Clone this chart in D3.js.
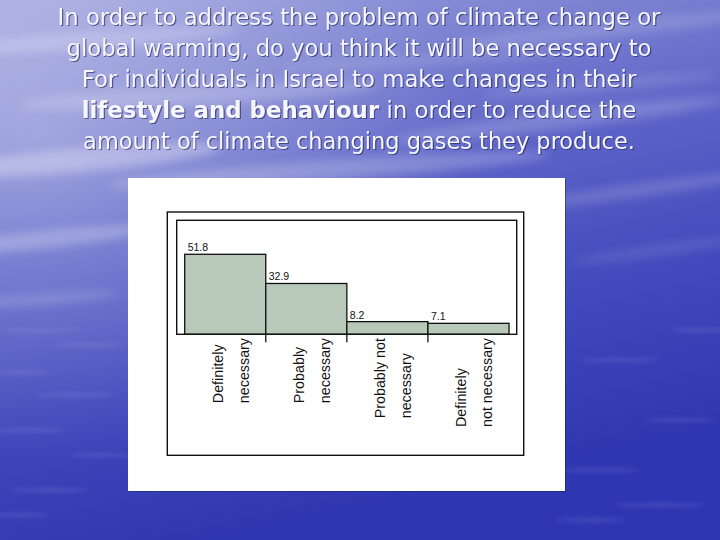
<!DOCTYPE html>
<html><head><meta charset="utf-8">
<script src="https://cdn.jsdelivr.net/npm/d3@7"></script>
<style>html,body{margin:0;padding:0;background:#4a52c0;overflow:hidden} svg{display:block}</style>
</head><body><svg id="c" width="720" height="540"></svg>
<script>
// ---- data ----
const titleLines = [
  [["In order to address the problem of climate change or", false]],
  [["global warming, do you think it will be necessary to", false]],
  [["For individuals in Israel to make changes in their", false]],
  [["lifestyle and behaviour", true], [" in order to reduce the", false]],
  [["amount of climate changing gases they produce.", false]]
];
const categories = ["Definitely necessary", "Probably necessary", "Probably not necessary", "Definitely not necessary"];
const categoryLines = [["Definitely", "necessary"], ["Probably", "necessary"], ["Probably not", "necessary"], ["Definitely", "not necessary"]];
const values = [51.8, 32.9, 8.2, 7.1];
const valueLabels = ["51.8", "32.9", "8.2", "7.1"];
const yMax = 73.8;

// ---- layout ----
const svg = d3.select("#c");
const defs = svg.append("defs");

const bg = defs.append("linearGradient").attr("id", "bg").attr("x1", 0).attr("y1", 0).attr("x2", 0.3).attr("y2", 1);
[[0, "#9ea3de"], [0.22, "#7e84d2"], [0.45, "#5c63c7"], [0.7, "#434bbd"], [1, "#2f36b1"]]
  .forEach(([o, c]) => bg.append("stop").attr("offset", o).attr("stop-color", c));
const rg = defs.append("radialGradient").attr("id", "glow").attr("cx", 0.05).attr("cy", 0.25).attr("r", 0.6);
rg.append("stop").attr("offset", 0).attr("stop-color", "#fff").attr("stop-opacity", 0.3);
rg.append("stop").attr("offset", 1).attr("stop-color", "#fff").attr("stop-opacity", 0);
defs.append("filter").attr("id", "blur").attr("x", "-50%").attr("y", "-50%").attr("width", "200%").attr("height", "200%")
  .append("feGaussianBlur").attr("stdDeviation", 5);
defs.append("filter").attr("id", "blur2").attr("x", "-50%").attr("y", "-50%").attr("width", "200%").attr("height", "200%")
  .append("feGaussianBlur").attr("stdDeviation", 2);

svg.append("rect").attr("width", 720).attr("height", 540).attr("fill", "url(#bg)");
svg.append("rect").attr("width", 720).attr("height", 540).attr("fill", "url(#glow)");

const streaks = [
  [90, 40, 150, 9, -4, 0.22], [600, 30, 160, 8, -6, 0.15], [200, 95, 180, 10, -3, 0.2],
  [560, 120, 170, 9, -7, 0.18], [80, 160, 140, 12, -5, 0.3], [330, 170, 220, 10, -4, 0.22],
  [640, 190, 130, 7, -8, 0.16], [40, 240, 110, 9, -6, 0.25], [660, 250, 90, 6, -8, 0.1],
  [30, 300, 90, 6, -4, 0.16], [600, 85, 120, 6, -5, 0.13], [420, 60, 140, 6, -3, 0.12]
];
svg.append("g").attr("filter", "url(#blur)").selectAll("ellipse").data(streaks).join("ellipse")
  .attr("cx", d => d[0]).attr("cy", d => d[1]).attr("rx", d => d[2]).attr("ry", d => d[3])
  .attr("transform", d => `rotate(${d[4]},${d[0]},${d[1]})`)
  .attr("fill", "#fff").attr("opacity", d => d[5]);

const ripples = [
  [40, 330, 40, 2], [90, 345, 35, 2], [20, 372, 30, 2], [75, 395, 40, 2], [30, 430, 35, 2],
  [100, 455, 30, 2], [50, 490, 40, 2], [20, 515, 30, 2], [620, 360, 40, 2], [680, 420, 35, 2],
  [600, 470, 40, 2], [660, 505, 45, 2], [700, 330, 30, 2], [590, 520, 35, 2]
];
svg.append("g").attr("filter", "url(#blur2)").selectAll("ellipse").data(ripples).join("ellipse")
  .attr("cx", d => d[0]).attr("cy", d => d[1]).attr("rx", d => d[2]).attr("ry", d => d[3])
  .attr("fill", "#c8ccf4").attr("opacity", 0.15);

// ---- title ----
const titleBase = [25, 56, 87, 118, 149];
const titleWidth = [603, 585, 555, 555, 552];
const titleG = svg.append("g");
titleLines.forEach((parts, i) => {
  [[1.2, 1.2, "#20225a", 0.6], [0, 0, "#f6f6ff", 1]].forEach(([dx, dy, col, op]) => {
    const t = titleG.append("text")
      .attr("text-anchor", "middle")
      .attr("font-family", "DejaVu Sans Condensed, DejaVu Sans, Verdana, sans-serif")
      .attr("font-size", 23).attr("fill", col).attr("opacity", op);
    parts.forEach(([s, b]) => t.append("tspan").text(s).attr("font-weight", b ? "bold" : "normal"));
    const w = t.node().getComputedTextLength();
    t.attr("transform", `translate(${359 + dx},${titleBase[i] + dy}) scale(${titleWidth[i] / w},1)`);
  });
});

// ---- panel ----
svg.append("rect").attr("x", 129).attr("y", 179).attr("width", 437).attr("height", 313).attr("fill", "#20245a").attr("opacity", 0.5);
svg.append("rect").attr("x", 128).attr("y", 178).attr("width", 437).attr("height", 313).attr("fill", "#ffffff");
svg.append("rect").attr("x", 167.3).attr("y", 212).attr("width", 356.4).attr("height", 243.3)
  .attr("fill", "none").attr("stroke", "#111").attr("stroke-width", 1.4);

const plot = { l: 176.7, r: 516.7, t: 220.3, b: 334.3 };
const x = d3.scaleBand().domain(categories).range([184.7, 509]).padding(0);
const y = d3.scaleLinear().domain([0, yMax]).range([plot.b, plot.t]);

svg.append("g").selectAll("rect").data(values).join("rect")
  .attr("x", (d, i) => x(categories[i])).attr("width", x.bandwidth())
  .attr("y", d => y(d)).attr("height", d => y(0) - y(d))
  .attr("fill", "#b9c9b9").attr("stroke", "#111").attr("stroke-width", 1.3);

svg.append("rect").attr("x", plot.l).attr("y", plot.t).attr("width", plot.r - plot.l).attr("height", plot.b - plot.t)
  .attr("fill", "none").attr("stroke", "#111").attr("stroke-width", 1.4);

// ticks at boundaries between bars
svg.append("g").selectAll("line").data(categories.slice(1)).join("line")
  .attr("x1", d => x(d)).attr("x2", d => x(d)).attr("y1", plot.b).attr("y2", plot.b + 8)
  .attr("stroke", "#111").attr("stroke-width", 1.3);

// value labels
svg.append("g").selectAll("text").data(values).join("text")
  .attr("x", (d, i) => x(categories[i]) + 3).attr("y", d => y(d) - 3)
  .attr("font-family", "Liberation Sans, Arial, sans-serif").attr("font-size", 10.5).attr("fill", "#111")
  .text((d, i) => valueLabels[i]);

// category labels (rotated, two lines)
const catG = svg.append("g");
categories.forEach((c, i) => {
  const cx = x(c) + x.bandwidth() / 2;
  const texts = categoryLines[i].map((s, j) => catG.append("text")
    .attr("font-family", "Liberation Sans, Arial, sans-serif").attr("font-size", 14.3).attr("fill", "#111")
    .attr("dy", "0.35em").text(s));
  const maxLen = d3.max(texts, t => t.node().getComputedTextLength());
  texts.forEach((t, j) => {
    const lx = cx - 7 + j * 26;
    t.attr("transform", `translate(${lx},${338 + maxLen}) rotate(-90)`);
  });
});
</script></body></html>
